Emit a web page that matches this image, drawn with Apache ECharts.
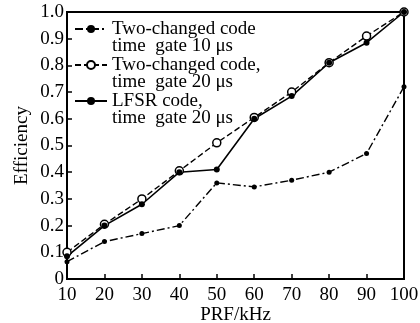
<!DOCTYPE html>
<html><head><meta charset="utf-8">
<script src="https://cdn.jsdelivr.net/npm/echarts@6/dist/echarts.min.js"></script>
<style>html,body{margin:0;padding:0;background:#fff}#c{width:420px;height:323px}</style>
</head><body><div id="c"></div>
<script>
const prf = [10,20,30,40,50,60,70,80,90,100];
const gate10 = [0.065,0.14,0.17,0.20,0.36,0.345,0.37,0.40,0.47,0.72];
const gate20 = [0.10,0.205,0.30,0.405,0.51,0.605,0.70,0.81,0.91,1.0];
const lfsr = [0.085,0.20,0.28,0.40,0.41,0.60,0.685,0.81,0.885,1.0];
const names = ['Two-changed code\ntime  gate 10 μs','Two-changed code,\ntime  gate 20 μs','LFSR code,\ntime  gate 20 μs'];
const F = '"Liberation Serif","Times New Roman",serif';
const pts = a => a.map((v,i)=>[prf[i],v]);
const chart = echarts.init(document.getElementById('c'));
chart.setOption({
  animation:false,
  grid:{left:67,right:16,top:12,bottom:44,outerBoundsMode:'none',containLabel:false,show:true,borderColor:'#000',borderWidth:2,backgroundColor:'transparent'},
  xAxis:{type:'value',min:10,max:100,interval:10,name:'PRF/kHz',nameLocation:'middle',nameGap:27,nameMoveOverlap:false,
    nameTextStyle:{fontFamily:F,fontSize:19,color:'#000'},
    axisLine:{lineStyle:{color:'#000',width:2}},axisTick:{inside:true,length:5,lineStyle:{color:'#000',width:1.5}},
    axisLabel:{fontFamily:F,fontSize:19,color:'#000',margin:7},splitLine:{show:false}},
  yAxis:{type:'value',min:0,max:1,interval:0.1,name:'Efficiency',nameLocation:'middle',nameGap:35,nameMoveOverlap:false,
    nameTextStyle:{fontFamily:F,fontSize:19,color:'#000'},
    axisLine:{lineStyle:{color:'#000',width:2}},axisTick:{inside:true,length:5,lineStyle:{color:'#000',width:1.5}},
    axisLabel:{fontFamily:F,fontSize:19,color:'#000',margin:3,formatter:v=>v===0?'0':v.toFixed(1)},splitLine:{show:false}},
  legend:{left:74,top:2,padding:0,orient:'vertical',itemWidth:32,itemHeight:10,itemGap:-18,
    formatter:n=>'\n'+n,
    textStyle:{fontFamily:F,fontSize:19,color:'#000',lineHeight:17.5},
    data:names},
  series:[
    {name:names[0],type:'line',data:pts(gate10),symbol:'circle',symbolSize:5,
      lineStyle:{color:'#000',width:1.4,type:[8,3,2,3]},itemStyle:{color:'#000'}},
    {name:names[1],type:'line',data:pts(gate20),symbol:'circle',symbolSize:8,
      lineStyle:{color:'#000',width:1.4,type:[6,3]},itemStyle:{color:'#fff',borderColor:'#000',borderWidth:1.5}},
    {name:names[2],type:'line',data:pts(lfsr),symbol:'circle',symbolSize:6,
      lineStyle:{color:'#000',width:1.6,type:'solid'},itemStyle:{color:'#000'}}
  ]
});
</script></body></html>
